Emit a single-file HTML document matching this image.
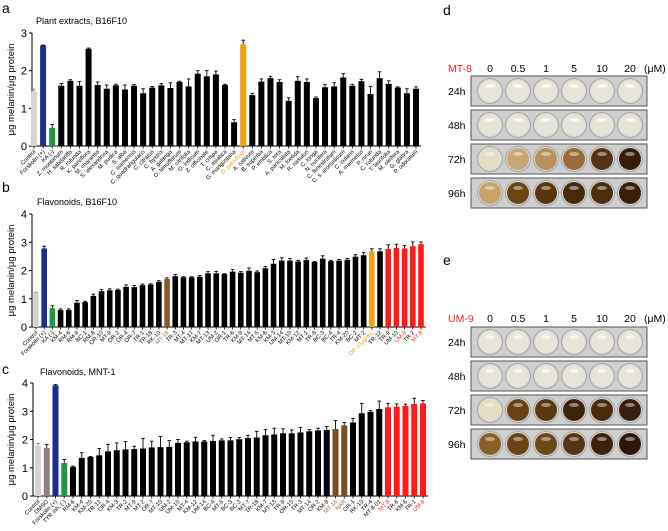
<!DOCTYPE html>
<html><head><meta charset="utf-8">
<style>
body{margin:0;background:#fff;}
svg{display:block;font-family:"Liberation Sans",Arial,sans-serif;}
</style></head>
<body>
<svg id="fig" width="668" height="531" viewBox="0 0 668 531">
<text x="2" y="13" font-size="14">a</text>
<text x="36" y="24" font-size="9">Plant extracts, B16F10</text>
<text x="2" y="192" font-size="14">b</text>
<text x="37" y="205" font-size="9">Flavonoids, B16F10</text>
<text x="2" y="374" font-size="14">c</text>
<text x="40" y="375" font-size="9">Flavonoids, MNT-1</text>
<text x="443" y="15" font-size="14">d</text>
<text x="443" y="265" font-size="14">e</text>
<g id="charts"></g>
<g id="plates"></g>
</svg>
<script>
// ---- Panel a data ----
const catsA = ["Control","Forskolin (+)","KA (-)","Z. montanum","H. sabdariffa","R. rotunda","K. parviflora","M. charantia","S. alexandrina","M. pudica","S. alba","C. siamensis","C. quadrangularis","C. citratus","C. hystrix","A. galanga","O. tenuiflorum","M. citrifolia","O. indicum","Z. officinale","T. crispa","C. asiatica","G. mangostana","O. paradoxa","A. sativum","B. superba","P. emblica","S. tora","A. paniculata","M. foetida","R. nasutus","C. longa","N. nucifera","C. fenestratum","C. s. aromaticum","C. nutans","A. marmelos","P. niruri","C. rotunda","T. laurifolia","M. oleifera","G. glabra","P. odoratum"];
const valsA = [1.45,2.67,0.48,1.6,1.73,1.6,2.58,1.62,1.52,1.61,1.5,1.6,1.4,1.55,1.61,1.54,1.7,1.58,1.92,1.85,1.9,1.62,0.63,2.7,1.35,1.71,1.8,1.7,1.2,1.73,1.7,1.27,1.56,1.58,1.82,1.6,1.72,1.38,1.8,1.65,1.55,1.4,1.52];
const errA = [0.06,0.01,0.09,0.06,0.03,0.11,0.02,0.08,0.1,0.03,0.12,0.03,0.12,0.03,0.05,0.14,0.02,0.2,0.08,0.15,0.09,0.02,0.07,0.11,0.05,0.07,0.05,0.06,0.08,0.11,0.08,0.03,0.07,0.1,0.1,0.04,0.05,0.2,0.17,0.08,0.02,0.12,0.05];
const colA = {0:"#d4d4d4",1:"#1c2e8c",2:"#1e9a3c",23:"#f4a012"};
const labColA = {23:"#f4a012"};
const ticksA = [0,1,2,3];
// ---- Panel b data ----
const catsB = ["Control","Forskolin (+)","KA (-)","KM-4","RM-6","RM-9","BC-1","RM-8","OR-10","MT-9","OR-2","OR-4","OR-7","TR-1","TR-18","RK-10","MT-16","TR-3","MT-4","MT-17","KM-7","MT-13","UM-2","OR-1","TR-6","KM-9","MT-14","MT-5","KM-6","KM-3","UM-14","MT-10","KM-12","MT-1","TR-8","BC-3","BC-4","TR-4","KM-20","BC-2","MT-2","DP 10μg/mL","TR-12","TR-9","UM-10","UM-9","TR-2","MT-8"];
const valsB = [1.2,2.78,0.67,0.6,0.6,0.86,0.88,1.1,1.27,1.3,1.31,1.42,1.41,1.48,1.5,1.6,1.7,1.8,1.76,1.76,1.78,1.9,1.9,1.87,1.96,1.92,1.99,1.94,2.08,2.24,2.35,2.35,2.32,2.37,2.3,2.42,2.33,2.35,2.38,2.49,2.54,2.68,2.68,2.76,2.8,2.78,2.86,2.93];
const errB = [0.03,0.08,0.08,0.04,0.04,0.08,0.03,0.06,0.06,0.05,0.03,0.07,0.06,0.04,0.03,0.04,0.04,0.06,0.02,0.02,0.04,0.06,0.07,0.02,0.08,0.04,0.1,0.04,0.06,0.15,0.1,0.07,0.04,0.07,0.02,0.1,0.03,0.04,0.05,0.07,0.09,0.09,0.09,0.15,0.13,0.1,0.15,0.08];
const colB = {0:"#d4d4d4",1:"#1c2e8c",2:"#1e9a3c",16:"#8b5a2b",41:"#f4a012",43:"#ff1a1a",44:"#ff1a1a",45:"#ff1a1a",46:"#ff1a1a",47:"#ff1a1a"};
const labColB = {16:"#9b6a3b",41:"#f4a012",45:"#ff2222",47:"#ff2222"};
const ticksB = [0,1,2,3,4];
// ---- Panel c data ----
const catsC = ["Control","DMSO","Forskolin (+)","TYR inh. (-)","RM-6","KM-4","KM-20","TR-12","OR-4","KM-3","TR-2","MT-9","MT-2","OR-7","MT-10","UM-2","UM-10","MT-4","KM-12","UM-14","BC-4","MT-5","BC-3","BC-2","MT-7","TR-18","KM-7","MT-13","TR-9","OR-10","TR-3","MT-14","OR-2","KM-9","MT-16","NAR","OR-1","RK-10","TR-4","MT-8-01","MT-8","TR-6","KM-6","TR-1","UM-9"];
const valsC = [1.78,1.7,3.92,1.17,1.03,1.35,1.38,1.44,1.58,1.62,1.65,1.66,1.68,1.72,1.73,1.74,1.88,1.9,1.93,1.93,1.95,1.97,1.97,2.01,2.05,2.07,2.15,2.18,2.22,2.22,2.25,2.29,2.32,2.34,2.37,2.5,2.6,2.93,2.98,3.08,3.14,3.16,3.19,3.26,3.28];
const errC = [0.08,0.12,0.03,0.12,0.03,0.18,0.02,0.24,0.25,0.26,0.28,0.1,0.36,0.22,0.38,0.22,0.12,0.04,0.15,0.03,0.2,0.05,0.1,0.06,0.1,0.22,0.2,0.22,0.16,0.12,0.18,0.06,0.08,0.12,0.3,0.1,0.15,0.35,0.05,0.28,0.14,0.1,0.06,0.2,0.1];
const colC = {0:"#d4d4d4",1:"#8c8080",2:"#1c2e8c",3:"#1e9a3c",34:"#7a4e22",35:"#7a4e22",40:"#ff1a1a",41:"#ff1a1a",42:"#ff1a1a",43:"#ff1a1a",44:"#ff1a1a"};
const labColC = {34:"#9b6a3b",35:"#9b6a3b",40:"#ff2222",44:"#ff2222"};
const ticksC = [0,1,2,3,4];

const NS="http://www.w3.org/2000/svg";
function mk(tag,attrs,parent){const e=document.createElementNS(NS,tag);for(const k in attrs)e.setAttribute(k,attrs[k]);parent.appendChild(e);return e;}
const charts=document.getElementById('charts');

function drawChart(id,cats,vals,errs,cols,labCols,ticks,axisX,y0,yTop,x0,x1,bw){
  const g=mk('g',{},charts);
  
  
  const maxV=ticks[ticks.length-1];
  const ys=v=>y0-(v/maxV)*(y0-yTop);
  const n=cats.length;
  const xs=i=>x0+i*(x1-x0)/(n-1);
  // y axis
  const ax=mk('line',{x1:axisX,y1:yTop,x2:axisX,y2:y0,stroke:'#000','stroke-width':1},g);
  
  
  const xa=mk('line',{x1:axisX,y1:y0,x2:xs(n-1)+bw/2+2,y2:y0,stroke:'#000','stroke-width':1},g);
  
  
  ticks.forEach(t=>{
    mk('line',{x1:axisX-3,y1:ys(t),x2:axisX,y2:ys(t),stroke:'#000','stroke-width':1},g);
    const tl=mk('text',{x:axisX-5,y:ys(t)+4,'font-size':11,'text-anchor':'end'},g);
    tl.textContent=t;
    
    
  });
  const yt=mk('text',{x:0,y:0,'font-size':9.5,'text-anchor':'middle',transform:`translate(14,${(y0+yTop)/2}) rotate(-90)`},g);
  yt.textContent='μg melanin/μg protein';
  
  
  cats.forEach((c,i)=>{
    const x=xs(i),v=vals[i],e=errs[i];
    const col=cols[i]||'#000';
    const r=mk('rect',{x:x-bw/2,y:ys(v),width:bw,height:y0-ys(v),fill:col},g);
    
    
    const ec=col==='#d4d4d4'?'#888':'#000';
    mk('line',{x1:x,y1:ys(v),x2:x,y2:ys(v+e),stroke:ec,'stroke-width':0.9},g);
    mk('line',{x1:x-1.8,y1:ys(v+e),x2:x+1.8,y2:ys(v+e),stroke:ec,'stroke-width':0.9},g);
    mk('line',{x1:x,y1:y0,x2:x,y2:y0+2.5,stroke:'#000','stroke-width':0.8},g);
    const t=mk('text',{x:0,y:0,'font-size':5.8,'text-anchor':'end',fill:labCols[i]||'#000',transform:`translate(${x+2},${y0+6}) rotate(-45)`},g);
    t.textContent=c;
    
    
  });
}
drawChart('a',catsA,valsA,errsA=errA,colA,labColA,ticksA,32,146,33,34,416,6);
drawChart('b',catsB,valsB,errB,colB,labColB,ticksB,32,327,214,36,421,5.6);
drawChart('c',catsC,valsC,errC,colC,labColC,ticksC,33,496,383,38,423,6);

// ---- plates ----
const concs=["0","0.5","1","5","10","20"];
const times=["24h","48h","72h","96h"];
const wellD=[["#e9e5d8","#e9e5d8","#e9e5d8","#e9e5d8","#e9e5d8","#e9e5d8"],["#e6e3d8","#e6e3d8","#e6e3d8","#e6e3d8","#e6e3d8","#e6e3d8"],["#e4dcc6","#c8a574","#b89158","#9a6c38","#553216","#371c0c"],["#c6a468","#6a4614","#58350e","#48290b","#4d2d10","#3a1e0c"]];
const wellE=[["#e9e5d8","#e9e5d8","#e9e5d8","#e9e5d8","#e9e5d8","#e9e5d8"],["#e6e3d8","#e6e3d8","#e6e3d8","#e6e3d8","#e6e3d8","#e6e3d8"],["#e6ddc4","#684216","#593711","#3d220c","#4a2b10","#381e0e"],["#8a6025","#6a4416","#6e4818","#583512","#3c210d","#2c170a"]];
const plates=document.getElementById('plates');
function drawPlate(id,cmp,labelY,rowsY,colors){
  const g=mk('g',{},plates);
  
  
  const cl=mk('text',{x:448,y:labelY,'font-size':10.5,fill:'#ff2020'},g);
  cl.textContent=cmp;
  
  
  const cx=[490,518,546,574,602,630];
  concs.forEach((c,i)=>{
    const t=mk('text',{x:cx[i],y:labelY,'font-size':10.5,'text-anchor':'middle'},g);
    t.textContent=c;
    
    
  });
  const u=mk('text',{x:644,y:labelY,'font-size':10.5},g);
  u.textContent='(μM)';
  
  
  times.forEach((tm,r)=>{
    const y=rowsY[r];
    const tl=mk('text',{x:448,y:y+19,'font-size':10.5},g);
    tl.textContent=tm;
    
    
    const s=mk('rect',{x:471,y:y,width:176,height:30,fill:'#cfcfcf',stroke:'#555','stroke-width':1},g);
    
    
    cx.forEach((x,i)=>{
      mk('circle',{cx:x,cy:y+15,r:12.5,fill:'#d8d8d6',stroke:'#9a9a9a','stroke-width':0.8},g);
      const w=mk('circle',{cx:x,cy:y+15,r:11,fill:colors[r][i]},g);
      
      
      mk('ellipse',{cx:x,cy:y+10,rx:5,ry:2,fill:'#ffffff',opacity:r<2?0.7:0.45},g);
    });
  });
}
drawPlate('d','MT-8',72,[76,110,144,178],wellD);
drawPlate('e','UM-9',322,[327,361,395,429],wellE);
</script>
</body></html>
